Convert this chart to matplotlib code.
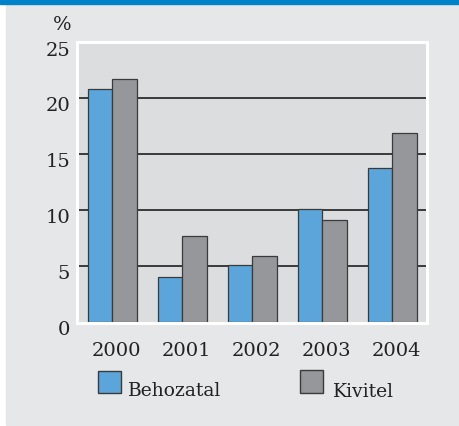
import matplotlib
matplotlib.use('Agg')
import matplotlib.pyplot as plt
import matplotlib.transforms as mtransforms
from matplotlib.patches import Rectangle
import numpy as np

# data
years = ['2000', '2001', '2002', '2003', '2004']
behozatal = [20.8, 4.0, 5.1, 10.05, 13.8]
kivitel = [21.7, 7.7, 5.9, 9.1, 16.9]
yticks = [0, 5, 10, 15, 20, 25]
gridlines = [5, 10, 15, 20]

W, H = 459, 427
blue = '#5ca5da'
grey = '#96979b'
edge = '#3a3a3a'
serif = 'DejaVu Serif'

fig = plt.figure(figsize=(W / 100, H / 100), dpi=100)
fig.patch.set_facecolor('white')


def fx(x):
    return x / W


def fy(y):
    return 1 - y / H


# background panel + blue stripe on top
fig.add_artist(Rectangle((fx(6), fy(426)), fx(453), 421.5 / H,
                         transform=fig.transFigure, color='#e6e7e9', zorder=0))
fig.add_artist(Rectangle((0, fy(4.5)), 1, 4.5 / H,
                         transform=fig.transFigure, color='#0082c8', zorder=0))

ax = fig.add_axes([fx(77), fy(324), 350 / W, (324 - 42.5) / H])
ax.set_facecolor('#dcdddf')
for s in ax.spines.values():
    s.set_color('white')
    s.set_linewidth(2.2)

x = np.arange(len(years))
w = 0.35
for yv in gridlines:
    ax.axhline(yv, color='#3a3a3a', lw=1.4, zorder=1)
ax.bar(x - w / 2, behozatal, w, color=blue, edgecolor=edge, lw=0.9, zorder=2)
ax.bar(x + w / 2, kivitel, w, color=grey, edgecolor=edge, lw=0.9, zorder=2)

ax.set_xlim(-0.5, 4.5)
ax.set_ylim(-0.12, 25.1)
ax.set_xticks(x)
ax.set_xticklabels(years, fontsize=14, family=serif, color='#222222')
ax.set_yticks(yticks)
ax.set_yticklabels([str(v) for v in yticks], fontsize=14, family=serif, color='#222222')
ax.tick_params(length=0)
ax.tick_params(axis='x', pad=13)
ax.tick_params(axis='y', pad=5)

# small shifts to match the printed labels
off_y = mtransforms.ScaledTranslation(0, -5 / 100, fig.dpi_scale_trans)
for lbl in ax.get_yticklabels():
    lbl.set_transform(lbl.get_transform() + off_y)
off_x = mtransforms.ScaledTranslation(4 / 100, 0, fig.dpi_scale_trans)
for lbl in ax.get_xticklabels():
    lbl.set_transform(lbl.get_transform() + off_x)

fig.text(fx(62), fy(25), '%', fontsize=14, family=serif, color='#222222',
         ha='center', va='center')

# legend
fig.add_artist(Rectangle((fx(98), fy(394)), 23 / W, 22 / H, transform=fig.transFigure,
                         facecolor=blue, edgecolor=edge, lw=1.0))
fig.text(fx(128), fy(396), 'Behozatal', fontsize=13.5, family=serif, color='#222222',
         ha='left', va='baseline')
fig.add_artist(Rectangle((fx(300), fy(394)), 23 / W, 23 / H, transform=fig.transFigure,
                         facecolor=grey, edgecolor=edge, lw=1.0))
fig.text(fx(333), fy(397), 'Kivitel', fontsize=13.5, family=serif, color='#222222',
         ha='left', va='baseline')

fig.savefig('out.png', dpi=100)
